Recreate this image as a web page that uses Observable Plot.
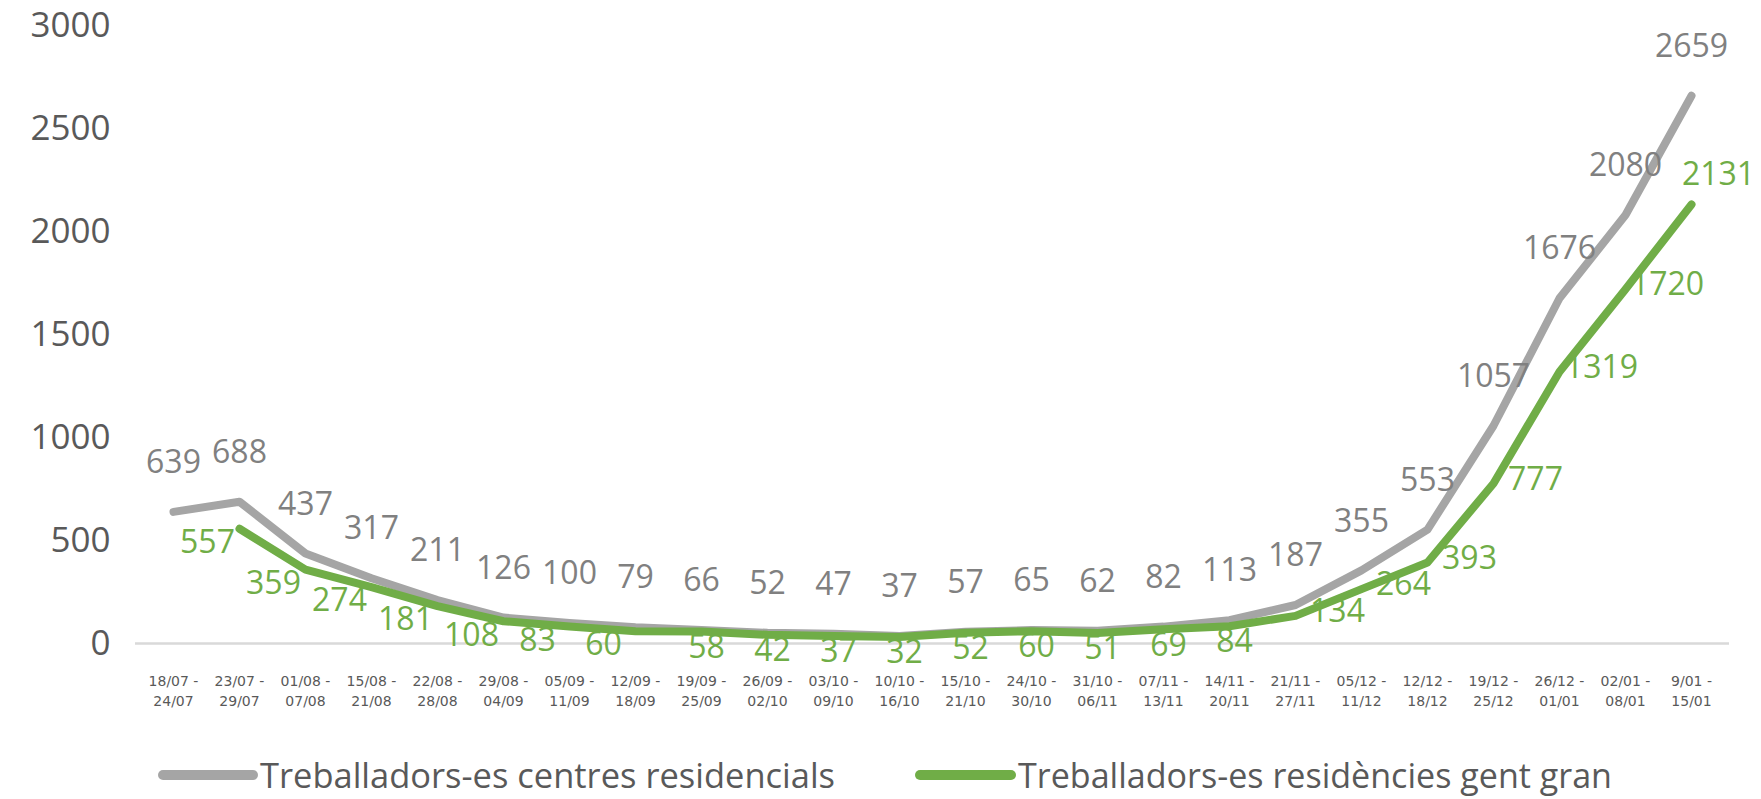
<!DOCTYPE html>
<html>
<head>
<meta charset="utf-8">
<script src="https://cdn.jsdelivr.net/npm/d3@7"></script>
<script src="https://cdn.jsdelivr.net/npm/@observablehq/plot@0.6"></script>
<style>
  html, body { margin: 0; padding: 0; background: #ffffff; }
  #chart svg { display: block; }
  #legend { display: block; }
</style>
</head>
<body>
<div id="chart"></div>
<svg id="legend" width="1761" height="69"></svg>
<script>
// ---- data ----
const periods = [
  "18/07 -\n24/07", "23/07 -\n29/07", "01/08 -\n07/08", "15/08 -\n21/08",
  "22/08 -\n28/08", "29/08 -\n04/09", "05/09 -\n11/09", "12/09 -\n18/09",
  "19/09 -\n25/09", "26/09 -\n02/10", "03/10 -\n09/10", "10/10 -\n16/10",
  "15/10 -\n21/10", "24/10 -\n30/10", "31/10 -\n06/11", "07/11 -\n13/11",
  "14/11 -\n20/11", "21/11 -\n27/11", "05/12 -\n11/12", "12/12 -\n18/12",
  "19/12 -\n25/12", "26/12 -\n01/01", "02/01 -\n08/01", "9/01 -\n15/01"
];
const centresResidencials = [639, 688, 437, 317, 211, 126, 100, 79, 66, 52, 47, 37,
  57, 65, 62, 82, 113, 187, 355, 553, 1057, 1676, 2080, 2659];
const residenciesGentGran = [null, 557, 359, 274, 181, 108, 83, 60, 58, 42, 37, 32,
  52, 60, 51, 69, 84, 134, 264, 393, 777, 1319, 1720, 2131];
const seriesNames = ["Treballadors-es centres residencials", "Treballadors-es residències gent gran"];
const seriesColors = ["#A5A5A5", "#70AD47"];
const yTicks = [0, 500, 1000, 1500, 2000, 2500, 3000];

// ---- tables built from the arrays ----
const grayData = periods.map((p, i) => ({period: p, value: centresResidencials[i], i}));
const greenData = periods.map((p, i) => ({period: p, value: residenciesGentGran[i], i}))
  .filter(d => d.value != null);
const last = periods.length - 1;

const labelFont = "'Open Sans', sans-serif";
const greenLabel = (data, dx, dy) => Plot.text(data, {x: "period", y: "value",
  text: d => String(d.value), dx, dy, fontSize: 32, fill: seriesColors[1], fontFamily: labelFont});

const chart = Plot.plot({
  width: 1761,
  height: 730,
  marginLeft: 135,
  marginRight: 32,
  marginTop: 25,
  marginBottom: 87,
  style: {background: "#ffffff", overflow: "visible"},
  x: {type: "point", domain: periods, padding: 0.5},
  y: {domain: [0, 3000]},
  marks: [
    Plot.ruleY([0], {stroke: "#D9D9D9", strokeWidth: 2.5}),
    Plot.axisY({ticks: yTicks, tickFormat: d => String(d), tickSize: 0, tickPadding: 25, fontSize: 35,
      fill: "#595959", fontFamily: labelFont, label: null}),
    Plot.axisX({tickSize: 0, tickPadding: 29, fontSize: 14, lineHeight: 1.4,
      fill: "#595959", fontFamily: "'DejaVu Sans', sans-serif", label: null}),
    Plot.line(grayData, {x: "period", y: "value", stroke: seriesColors[0], strokeWidth: 8,
      strokeLinecap: "round", strokeLinejoin: "round"}),
    Plot.line(greenData, {x: "period", y: "value", stroke: seriesColors[1], strokeWidth: 8,
      strokeLinecap: "round", strokeLinejoin: "round"}),
    Plot.text(grayData, {x: "period", y: "value", text: d => String(d.value), dy: -49,
      fontSize: 32, fill: "#808080", fontFamily: labelFont}),
    greenLabel(greenData.filter(d => d.i < 8), -32, 14),
    greenLabel(greenData.filter(d => d.i >= 8 && d.i < 17), 5, 16),
    greenLabel(greenData.filter(d => d.i >= 17 && d.i < last), 42, -4),
    greenLabel(greenData.filter(d => d.i === last), 27, -30)
  ]
});
document.getElementById("chart").appendChild(chart);

// ---- legend below the chart ----
const legend = d3.select("#legend");
const legendItems = [
  {name: seriesNames[0], color: seriesColors[0], x0: 163, x1: 253, tx: 260, len: 575},
  {name: seriesNames[1], color: seriesColors[1], x0: 920, x1: 1011, tx: 1018, len: 594}
];
for (const it of legendItems) {
  legend.append("line")
    .attr("x1", it.x0).attr("x2", it.x1).attr("y1", 45).attr("y2", 45)
    .attr("stroke", it.color).attr("stroke-width", 10).attr("stroke-linecap", "round");
  legend.append("text")
    .attr("x", it.tx).attr("y", 58)
    .attr("font-family", "'Liberation Sans Narrow', 'Open Sans', sans-serif")
    .attr("font-size", 34)
    .attr("fill", "#595959")
    .attr("textLength", it.len)
    .attr("lengthAdjust", "spacingAndGlyphs")
    .text(it.name);
}
</script>
</body>
</html>
